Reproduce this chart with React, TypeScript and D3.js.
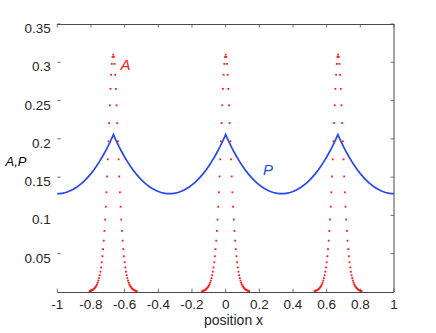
import React from 'react';
import * as d3 from 'd3';

const xTicks = [-1, -0.8, -0.6, -0.4, -0.2, 0, 0.2, 0.4, 0.6, 0.8, 1];
const xTickLabels = ['-1', '-0.8', '-0.6', '-0.4', '-0.2', '0', '0.2', '0.4', '0.6', '0.8', '1'];
const yTicks = [0.05, 0.1, 0.15, 0.2, 0.25, 0.3, 0.35];
const yTickLabels = ['0.05', '0.1', '0.15', '0.2', '0.25', '0.3', '0.35'];

// A: dotted series, three identical peaks sampled every 0.004
const aPeakCenters = [-0.668, 0, 0.668];
const aStep = 0.004;
const aProfile = [
  0.0011, 0.0014, 0.0017, 0.0021, 0.0025, 0.0031, 0.0037, 0.0046, 0.0056, 0.0068,
  0.0082, 0.0100, 0.0122, 0.0149, 0.0181, 0.0219, 0.0265, 0.0321, 0.0388, 0.0467,
  0.0560, 0.0670, 0.0798, 0.0946, 0.1114, 0.1302, 0.1509, 0.1733, 0.1968, 0.2206,
  0.2438, 0.2653, 0.2837, 0.2979, 0.3069,
  0.3100,
  0.3069, 0.2979, 0.2837, 0.2653, 0.2438, 0.2206, 0.1968, 0.1733, 0.1509, 0.1302,
  0.1114, 0.0946, 0.0798, 0.0670, 0.0560, 0.0467, 0.0388, 0.0321, 0.0265, 0.0219,
  0.0181, 0.0149, 0.0122, 0.0100, 0.0082, 0.0068, 0.0056, 0.0046, 0.0037, 0.0031,
  0.0025, 0.0021, 0.0017, 0.0014, 0.0011,
];

// P: line series sampled every 1/60 from x = -1 to 1
const pStart = -1;
const pStep = 1 / 60;
const pValues = [
  0.1284, 0.1286, 0.1291, 0.1300, 0.1312, 0.1328, 0.1348, 0.1371, 0.1398, 0.1429, 0.1464,
  0.1503, 0.1546, 0.1594, 0.1645, 0.1702, 0.1763, 0.1828, 0.1899, 0.1975, 0.2056,
  0.1975, 0.1899, 0.1828, 0.1763, 0.1702, 0.1645, 0.1594, 0.1546, 0.1503, 0.1464,
  0.1429, 0.1398, 0.1371, 0.1348, 0.1328, 0.1312, 0.1300, 0.1291, 0.1286, 0.1284,
  0.1286, 0.1291, 0.1300, 0.1312, 0.1328, 0.1348, 0.1371, 0.1398, 0.1429, 0.1464,
  0.1503, 0.1546, 0.1594, 0.1645, 0.1702, 0.1763, 0.1828, 0.1899, 0.1975, 0.2056,
  0.1975, 0.1899, 0.1828, 0.1763, 0.1702, 0.1645, 0.1594, 0.1546, 0.1503, 0.1464,
  0.1429, 0.1398, 0.1371, 0.1348, 0.1328, 0.1312, 0.1300, 0.1291, 0.1286, 0.1284,
  0.1286, 0.1291, 0.1300, 0.1312, 0.1328, 0.1348, 0.1371, 0.1398, 0.1429, 0.1464,
  0.1503, 0.1546, 0.1594, 0.1645, 0.1702, 0.1763, 0.1828, 0.1899, 0.1975, 0.2056,
  0.1975, 0.1899, 0.1828, 0.1763, 0.1702, 0.1645, 0.1594, 0.1546, 0.1503, 0.1464,
  0.1429, 0.1398, 0.1371, 0.1348, 0.1328, 0.1312, 0.1300, 0.1291, 0.1286, 0.1284,
];

const W = 436;
const H = 333;
const L = 57.3;
const R = 394;
const T = 24;
const B = 292;

export default function App() {
  const x = d3.scaleLinear().domain([-1, 1]).range([L, R]);
  const y = d3.scaleLinear().domain([0, 0.35]).range([B, T]);

  const half = (aProfile.length - 1) / 2;
  const aPoints: [number, number][] = [];
  aPeakCenters.forEach((c) => {
    aProfile.forEach((v, i) => {
      aPoints.push([c + (i - half) * aStep, v]);
    });
  });

  const pPoints: [number, number][] = pValues.map((v, i) => [pStart + i * pStep, v]);
  const line = d3
    .line<[number, number]>()
    .x((d) => x(d[0]))
    .y((d) => y(d[1]));

  const axisColor = '#4a4a4a';
  const textColor = '#262626';
  const font = "'Liberation Sans', Arial, Helvetica, sans-serif";
  const tl = 3.4;

  return (
    <svg
      width={W}
      height={H}
      style={{ position: 'absolute', left: 0, top: 0, background: '#fff' }}
      fontFamily={font}
    >
      <rect x={0} y={0} width={W} height={H} fill="#fff" />
      {/* P line */}
      <path d={line(pPoints) || ''} fill="none" stroke="#2747f2" strokeWidth={1.7} />
      {/* A dots */}
      {aPoints.map((d, i) => (
        <rect
          key={i}
          x={x(d[0]) - 0.9}
          y={y(d[1]) - 0.9}
          width={1.8}
          height={1.8}
          fill="#ff1a1a"
        />
      ))}
      {/* axes box: top, right, bottom */}
      <line x1={L} x2={R} y1={T + 0.5} y2={T + 0.5} stroke={axisColor} strokeWidth={1} />
      <line x1={R} x2={R} y1={T} y2={B} stroke={axisColor} strokeWidth={1} />
      <line x1={L} x2={R} y1={B + 0.5} y2={B + 0.5} stroke={axisColor} strokeWidth={1} />
      {/* x ticks */}
      {xTicks.map((t, i) => (
        <g key={'xt' + i}>
          <line x1={x(t)} x2={x(t)} y1={B} y2={B - tl} stroke={axisColor} strokeWidth={0.8} />
          <line x1={x(t)} x2={x(t)} y1={T} y2={T + tl} stroke={axisColor} strokeWidth={0.8} />
          <text
            x={x(t)}
            y={308.5}
            textAnchor="middle"
            fontSize={13.5}
            fill={textColor}
          >
            {xTickLabels[i]}
          </text>
        </g>
      ))}
      {/* y ticks */}
      {yTicks.map((t, i) => (
        <g key={'yt' + i}>
          {yTickLabels[i] !== '0.1' && (
            <line x1={L} x2={L + tl} y1={y(t)} y2={y(t)} stroke={axisColor} strokeWidth={0.8} />
          )}
          <line x1={R} x2={R - tl} y1={y(t)} y2={y(t)} stroke={axisColor} strokeWidth={0.8} />
          <text
            x={50.8}
            y={y(t) + 9}
            textAnchor="end"
            fontSize={13.5}
            fill={textColor}
          >
            {yTickLabels[i]}
          </text>
        </g>
      ))}
      {/* labels */}
      <text x={233.5} y={325} textAnchor="middle" fontSize={14} fill={textColor}>
        position x
      </text>
      <text x={5.5} y={166} fontSize={13} fontStyle="italic" fill="#000">
        A,P
      </text>
      <text x={120.5} y={70} fontSize={15} fontStyle="italic" fill="#ff2020">
        A
      </text>
      <text x={263} y={175} fontSize={15} fontStyle="italic" fill="#2747f2">
        P
      </text>
    </svg>
  );
}
